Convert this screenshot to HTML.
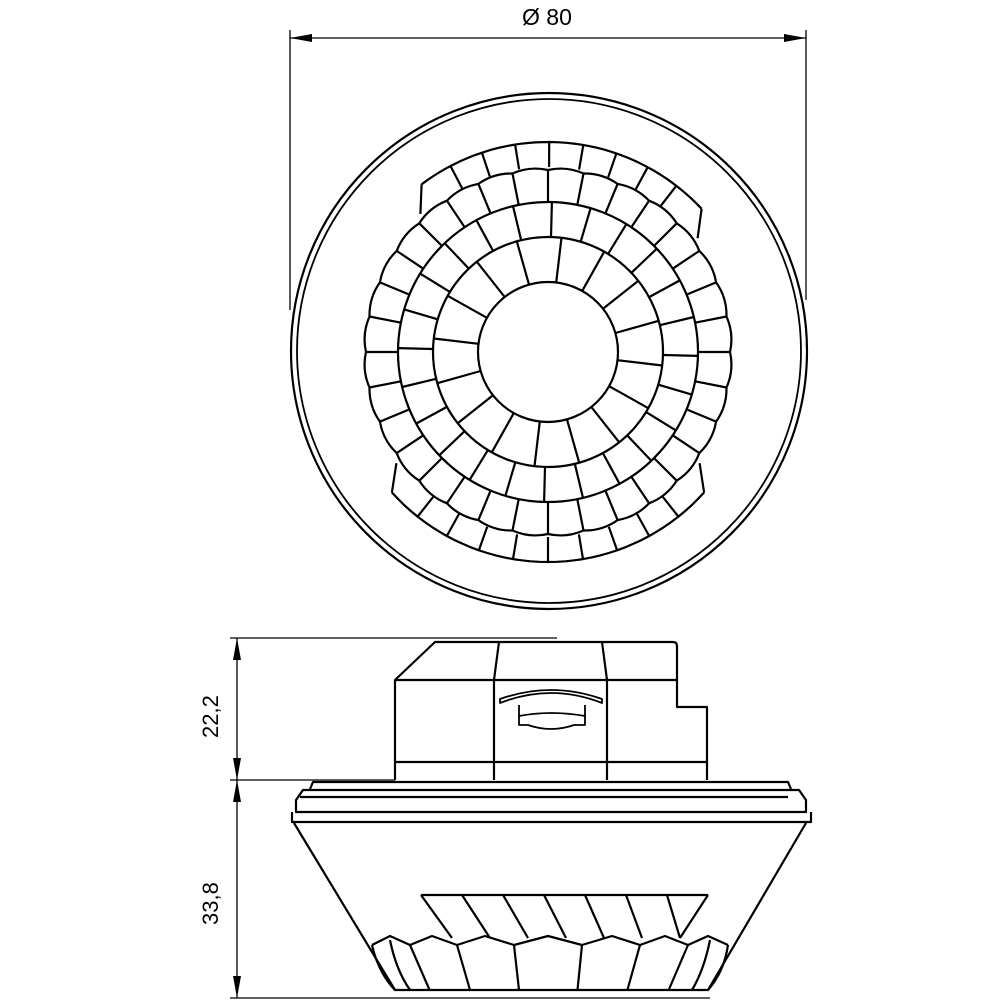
<!DOCTYPE html>
<html><head><meta charset="utf-8"><style>
html,body{margin:0;padding:0;background:#fff}
svg{display:block}
text{font-family:"Liberation Sans",sans-serif;font-size:22px;fill:#000}
</style></head><body>
<svg id="s" width="1000" height="1000" viewBox="0 0 1000 1000" xmlns="http://www.w3.org/2000/svg">
<g fill="none" stroke="#000" stroke-width="1.3">
<line x1="290" y1="30" x2="290" y2="310"/>
<line x1="806" y1="30" x2="806" y2="300"/>
<line x1="290" y1="38" x2="806" y2="38"/>
<line x1="237" y1="638" x2="237" y2="998"/>
<line x1="230" y1="638" x2="557" y2="638"/>
<line x1="230" y1="780" x2="395" y2="780"/>
<line x1="230" y1="998" x2="710" y2="998"/>
</g>
<g fill="#000">
<path d="M290 38 L312 34 L312 42Z"/>
<path d="M806 38 L784 34 L784 42Z"/>
<path d="M237 638 L233 660 L241 660Z"/>
<path d="M237 780 L233 758 L241 758Z"/>
<path d="M237 780 L233 802 L241 802Z"/>
<path d="M237 998 L233 976 L241 976Z"/>
</g>
<text x="522" y="25" style="font-size:23px">Ø 80</text>
<text transform="translate(218,738) rotate(-90)">22,2</text>
<text transform="translate(218,925) rotate(-90)">33,8</text>

<g fill="none" stroke="#000" stroke-width="2.2" stroke-linejoin="round">
<circle cx="549" cy="351" r="258"/>
<circle cx="549" cy="351" r="252" stroke-width="1.8"/>
<g id="lens"></g>

<path d="M395 780 L395 680 L435 642 L673 642 Q677 642 677 646 L677 707 L707 707 L707 780"/>
<line x1="395" y1="680" x2="677" y2="680"/>
<line x1="395" y1="762" x2="707" y2="762"/>
<path d="M499 642 L494 680 L494 780"/>
<path d="M602 642 L607 680 L607 780"/>
<path d="M500 703 Q551 683 602 703 L602 699 Q551 681 500 699Z" stroke-width="1.8"/>
<path d="M519 705 L519 725 L528 725 Q551 733 574 725 L585 725 L585 705" stroke-width="1.8"/>
<path d="M519 716 Q551 710 585 716" stroke-width="1.8"/>
<path d="M310 789 L313 782 L788 782 L791 789"/>
<path d="M300 797 L788 797" />
<path d="M296 800 L296 812 L806 812 L806 800 L799 790 L303 790 Z"/>
<path d="M292 812 L292 822 L811 822 L811 812"/>
<path d="M294 823 L395 990"/>
<path d="M806 823 L708 990"/>
<path d="M421 895 L708 895"/>
<g id="side"></g>
</g>
</svg>
<script>
(function(){
var cx=548,cy=352,out=[];
function P(r,a){return [(cx+r*Math.sin(a)).toFixed(1),(cy-r*Math.cos(a)).toFixed(1)];}
function L(p,q){out.push('<line x1="'+p[0]+'" y1="'+p[1]+'" x2="'+q[0]+'" y2="'+q[1]+'"/>');}
function circ(r){out.push('<circle cx="'+cx+'" cy="'+cy+'" r="'+r+'"/>');}
function spokes(r1,r2,n,off){for(var i=0;i<n;i++){var a=(i+off)/n*2*Math.PI;L(P(r1,a),P(r2,a));}}
circ(70);circ(115);circ(150);
spokes(70,115,16,0.3);
spokes(115,150,24,0.1);
var n3=32,d='';
for(var i=0;i<n3;i++){var a0=i/n3*2*Math.PI,a1=(i+1)/n3*2*Math.PI;var p=P(182,a0),m=P(187,(a0+a1)/2),q=P(182,a1);
d+=(i==0?'M'+p[0]+' '+p[1]:'')+' Q'+m[0]+' '+m[1]+' '+q[0]+' '+q[1];}
out.push('<path d="'+d+'"/>');
spokes(150,182,n3,0);
function part(a0,a1,n){a0=a0*Math.PI/180;a1=a1*Math.PI/180;var s='';
for(var i=0;i<=40;i++){var a=a0+(a1-a0)*i/40;var p=P(210,a);s+=(i?'L':'M')+p[0]+' '+p[1];}
out.push('<path d="'+s+'"/>');
L(P(210,a0),P(188,a0-0.1));L(P(210,a1),P(188,a1+0.1));
for(var k=1;k<n;k++){var a=a0+(a1-a0)*k/n;L(P(210,a),P(185,a));}
}
part(-37,47,9);part(132,228,10);
document.getElementById('lens').innerHTML=out.join('');
var s=[];
s.push('<line x1="421" y1="895" x2="452" y2="938"/>');
s.push('<line x1="708" y1="895" x2="680" y2="938"/>');
for(var k=1;k<7;k++){var xt=421+k*41,xb=452+k*38;s.push('<line x1="'+xt+'" y1="895" x2="'+xb+'" y2="938"/>');}
var xs=[372,390,410,432,457,485,514,548,582,612,640,665,688,708,728];
var z='M'+xs[0]+' 945';
for(var i=1;i<xs.length;i++){var y=(i%2==0)?945:936;z+=' L'+xs[i]+' '+y;}
s.push('<path d="'+z+'"/>');
for(var i=2;i<xs.length-2;i+=2){var x=xs[i];var xb=550+(x-550)*0.86;s.push('<line x1="'+x+'" y1="945" x2="'+xb.toFixed(1)+'" y2="990"/>');}
s.push('<path d="M372 945 Q378 972 395 990 L708 990 Q724 972 728 945"/>');
s.push('<path d="M390 940 Q396 970 410 990"/><path d="M710 940 Q704 970 692 990"/>');
document.getElementById('side').innerHTML=s.join('');
})();
</script>
</body></html>
